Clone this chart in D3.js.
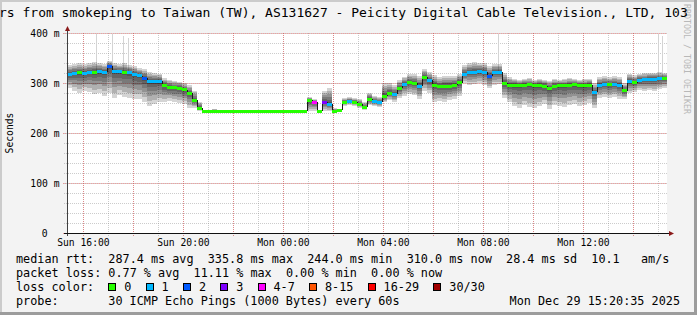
<!DOCTYPE html>
<html>
<head>
<meta charset="utf-8">
<script src="https://cdn.jsdelivr.net/npm/d3@7/dist/d3.min.js"></script>
<style>
    body { margin: 0; background: #f3f3f3; }
    svg { display: block; }
    text { font-family: "DejaVu Sans Mono", monospace; white-space: pre; }
</style>
</head>
<body>
<div class="C"></div>
<script>
// median rtt per 12 minute step, ms
var median = [318,320,321,320,322,322,323,322,334,324,
    323,322,321,318,315,310,304,303,304,295,
    292,291,290,287,280,266,250,244,244,244,
    244,244,244,244,244,244,244,244,244,244,
    244,244,244,244,244,244,244,244,266,262,
    244,262,258,244,246,262,264,262,258,252,
    268,264,262,274,280,278,290,298,301,300,
    294,312,306,296,293,294,294,296,301,318,
    322,322,323,322,314,322,322,300,296,296,
    295,296,297,295,296,294,290,294,296,295,
    296,297,296,295,296,282,296,298,297,298,
    296,285,304,301,306,307,308,308,309,310];
// lost pings out of 30
var loss = [1,1,0,1,1,0,1,1,2,1,
    1,0,1,1,1,2,1,1,1,0,
    0,0,0,0,0,0,0,0,0,0,
    0,0,0,0,0,0,0,0,0,0,
    0,0,0,0,0,0,0,0,0,5,
    0,3,1,0,0,0,1,0,0,0,
    0,1,1,0,0,1,0,1,0,0,
    1,0,1,0,0,0,0,0,0,1,
    1,1,1,1,2,1,1,0,0,0,
    0,0,0,0,0,0,0,0,0,0,
    0,0,0,0,0,1,1,1,0,1,
    1,0,1,0,1,1,1,1,1,0];
var smokeHi = [336,338,340,338,340,342,340,338,345,340,
    338,340,336,334,330,328,322,320,318,310,
    306,304,302,300,296,285,262,244,244,248,
    244,244,244,244,244,244,244,244,244,244,
    244,244,244,244,244,244,244,244,272,268,
    244,284,290,250,248,270,272,270,268,262,
    280,274,272,300,300,296,306,312,318,318,
    314,328,322,316,312,314,314,314,318,336,
    340,342,340,340,334,338,338,320,312,308,
    306,308,310,306,308,306,304,308,306,308,
    310,308,306,308,308,300,312,314,312,314,
    312,300,318,316,318,320,320,320,322,320];
var smokeLo = [290,285,280,284,282,278,280,275,280,270,
    276,272,270,268,268,262,255,258,262,262,
    265,262,260,258,250,250,244,244,244,244,
    244,244,244,244,244,244,244,244,244,244,
    244,244,244,244,244,244,244,244,244,244,
    244,244,244,244,244,255,256,254,250,246,
    256,254,252,262,266,262,270,275,278,276,
    268,284,280,262,264,262,266,268,274,300,
    296,298,300,296,290,296,298,270,262,254,
    250,256,252,250,254,258,248,256,254,252,
    256,258,254,256,260,250,270,272,270,272,
    268,268,280,282,286,284,286,284,288,290];
// single outlier pings
var spikeTimes = ["2025-12-28T16:30:00Z","2025-12-28T17:08:00Z","2025-12-28T17:36:00Z","2025-12-28T17:46:00Z",
    "2025-12-29T08:35:00Z","2025-12-29T14:58:00Z","2025-12-29T15:08:00Z"];
var spikeMax = [398,400,395,390,400,400,395];

var lossLabels = ["0","1","2","3","4-7","8-15","16-29","30/30"];
var lossColors = ["#26ff00","#00b8ff","#0059ff","#7e00ff","#ff00ff","#ff5500","#ff0000","#a10000"];
var yMinor = d3.range(0, 401, 20);
var yMajor = [0,100,200,300,400];
var yLabels = ["0","100 m","200 m","300 m","400 m"];
var rttStats = ["287.4 ms avg","335.8 ms max","244.0 ms min","310.0 ms now","28.4 ms sd","10.1   am/s"];
var lossStats = ["0.77 % avg","11.11 % max","0.00 % min","0.00 % now"];

var W = 697, H = 315;
var CH = 7.1; // legend character advance
var start = new Date(Date.UTC(2025, 11, 28, 15, 20, 35));
var end = new Date(start.getTime() + 24 * 3600e3);
var step = 12 * 60e3;
var times = median.map(function (d, i) { return new Date(start.getTime() + i * step); });

var x = d3.scaleUtc().domain([start, end]).range([67, 667]);
var y = d3.scaleLinear().domain([0, 400]).range([233, 33]);
var lossColor = d3.scaleThreshold().domain([1,2,3,4,8,16,30]).range(lossColors);

var svg = d3.select('.C').append('svg').attr('width', W).attr('height', H);

// frame
svg.append('rect').attr('width', W).attr('height', H).attr('fill', '#f3f3f3');
svg.append('rect').attr('x', 0).attr('y', 0).attr('width', W).attr('height', 2).attr('fill', '#cbcbcb');
svg.append('rect').attr('x', 0).attr('y', 0).attr('width', 2).attr('height', H).attr('fill', '#cbcbcb');
svg.append('rect').attr('x', 0).attr('y', H - 3).attr('width', W).attr('height', 3).attr('fill', '#9c9c9c');

// plot canvas
svg.append('rect').attr('x', 67).attr('y', 33).attr('width', 600).attr('height', 200).attr('fill', '#fff');

var grid = svg.append('g').attr('shape-rendering', 'crispEdges');
var hourTicks = x.ticks(d3.utcHour.every(1));
var twoHour = x.ticks(d3.utcHour.every(2));
grid.selectAll('.vmin').data(hourTicks).enter().append('line')
    .attr('x1', function (d) { return Math.round(x(d)) + 0.5; })
    .attr('x2', function (d) { return Math.round(x(d)) + 0.5; })
    .attr('y1', 33).attr('y2', 236)
    .attr('stroke', 'rgba(143,143,143,0.45)').attr('stroke-dasharray', '1,1');
grid.selectAll('.hmin').data(yMinor).enter().append('line')
    .attr('x1', 64).attr('x2', 667)
    .attr('y1', function (d) { return Math.round(y(d)) + 0.5; })
    .attr('y2', function (d) { return Math.round(y(d)) + 0.5; })
    .attr('stroke', 'rgba(143,143,143,0.45)').attr('stroke-dasharray', '1,1');
grid.selectAll('.vmaj').data(twoHour).enter().append('line')
    .attr('x1', function (d) { return Math.round(x(d)) + 0.5; })
    .attr('x2', function (d) { return Math.round(x(d)) + 0.5; })
    .attr('y1', 33).attr('y2', 237)
    .attr('stroke', 'rgba(233,80,80,0.55)').attr('stroke-dasharray', '1,1');
grid.selectAll('.hmaj').data(yMajor).enter().append('line')
    .attr('x1', 63).attr('x2', 667)
    .attr('y1', function (d) { return Math.round(y(d)) + 0.5; })
    .attr('y2', function (d) { return Math.round(y(d)) + 0.5; })
    .attr('stroke', 'rgba(233,80,80,0.55)').attr('stroke-dasharray', '1,1');

var plot = svg.append('g').attr('shape-rendering', 'crispEdges');

// outliers
plot.selectAll('.spike').data(spikeTimes).enter().append('line')
    .attr('x1', function (d) { return Math.round(x(new Date(d))) + 0.5; })
    .attr('x2', function (d) { return Math.round(x(new Date(d))) + 0.5; })
    .attr('y1', function (d, i) { return y(spikeMax[i]); })
    .attr('y2', function (d, i) { return y(median[Math.floor((new Date(d) - start) / step)]); })
    .attr('stroke', '#d4d4d4');

// smoke, darker towards the median
var layers = [1, 0.8, 0.6, 0.42, 0.26, 0.12];
layers.forEach(function (f) {
    plot.selectAll(null).data(times).enter().append('rect')
        .attr('x', function (d) { return x(d); })
        .attr('width', function (d) { return x(new Date(d.getTime() + step)) - x(d); })
        .attr('y', function (d, i) { return y(median[i] + (smokeHi[i] - median[i]) * f); })
        .attr('height', function (d, i) {
            return Math.max(0, y(median[i] - (median[i] - smokeLo[i]) * f) - y(median[i] + (smokeHi[i] - median[i]) * f));
        })
        .attr('fill', '#000').attr('fill-opacity', 0.17);
});

// step joins
plot.selectAll('.join').data(times.slice(1)).enter().append('line')
    .attr('x1', function (d) { return Math.round(x(d)) + 0.5; })
    .attr('x2', function (d) { return Math.round(x(d)) + 0.5; })
    .attr('y1', function (d, i) { return y(median[i]); })
    .attr('y2', function (d, i) { return y(median[i + 1]); })
    .attr('stroke', '#1a1a1a');

// median coloured by loss
plot.selectAll('.med').data(times).enter().append('rect')
    .attr('x', function (d) { return x(d); })
    .attr('width', function (d) { return x(new Date(d.getTime() + step)) - x(d); })
    .attr('y', function (d, i) { return y(median[i]) - 1.5; })
    .attr('height', 3)
    .attr('fill', function (d, i) { return lossColor(loss[i]); });

// axes
var axes = svg.append('g').attr('shape-rendering', 'crispEdges');
axes.append('line').attr('x1', 67.5).attr('x2', 67.5).attr('y1', 236).attr('y2', 30).attr('stroke', '#404040');
axes.append('line').attr('x1', 64).attr('x2', 670).attr('y1', 233.5).attr('y2', 233.5).attr('stroke', '#111');
svg.append('path').attr('d', 'M65,31 L67.5,26 L70,31 Z').attr('fill', '#8b1a1a');
svg.append('path').attr('d', 'M669,231 L674,233.5 L669,236 Z').attr('fill', '#8b1a1a');

svg.selectAll('.ylab').data(yMajor).enter().append('text')
    .attr('x', function (d) { return d === 0 ? 47.5 : 59.5; })
    .attr('y', function (d) { return y(d) + 3.5; })
    .attr('text-anchor', 'end').style('font-size', '9.7px').style('fill', '#000')
    .text(function (d, i) { return yLabels[i]; });

var fmt = d3.utcFormat('%a %H:%M');
svg.selectAll('.xlab').data(x.ticks(d3.utcHour.every(4))).enter().append('text')
    .attr('x', function (d) { return x(d); })
    .attr('y', 246)
    .attr('text-anchor', 'middle').style('font-size', '9.7px').style('fill', '#000')
    .text(function (d) { return fmt(d); });

svg.append('text').attr('transform', 'translate(13,133) rotate(-90)')
    .attr('text-anchor', 'middle').style('font-size', '9.7px').style('fill', '#000').text('Seconds');

svg.append('text').attr('transform', 'translate(684,4) rotate(90)')
    .style('font-size', '8.3px').style('fill', '#b8b8b8').text('RRDTOOL / TOBI OETIKER');

svg.append('text').attr('x', -1).attr('y', 17).style('font-size', '13px').style('fill', '#000')
    .text('rs from smokeping to Taiwan (TW), AS131627 - Peicity Digital Cable Television., LTD, 103');
svg.append('rect').attr('x', W - 3).attr('y', 0).attr('width', 3).attr('height', H).attr('fill', '#9c9c9c');

// legend
var leg = svg.append('g').style('font-size', '11.8px').style('fill', '#000');
leg.append('text').attr('x', 16).attr('y', 263).text('median rtt:  ' + rttStats.join('  '));
leg.append('text').attr('x', 16).attr('y', 277).text('packet loss: ' + lossStats.join('  '));
leg.append('text').attr('x', 16).attr('y', 291).text('loss color:');
var boxX = [];
var bx = 16 + 13 * CH;
lossLabels.forEach(function (d) { boxX.push(bx); bx += 16 + d.length * CH + 2 * CH; });
leg.selectAll('.lb').data(lossLabels).enter().append('rect')
    .attr('x', function (d, i) { return Math.round(boxX[i]) + 0.5; })
    .attr('y', 283.5).attr('width', 7).attr('height', 7)
    .attr('fill', function (d, i) { return lossColors[i]; })
    .attr('stroke', '#000').attr('shape-rendering', 'crispEdges');
leg.selectAll('.lt').data(lossLabels).enter().append('text')
    .attr('x', function (d, i) { return boxX[i] + 16; })
    .attr('y', 291).text(function (d) { return d; });
leg.append('text').attr('x', 16).attr('y', 305).text('probe:');
leg.append('text').attr('x', 16 + 13 * CH).attr('y', 305).text('30 ICMP Echo Pings (1000 Bytes) every 60s');
leg.append('text').attr('x', 680).attr('y', 305).attr('text-anchor', 'end').text('Mon Dec 29 15:20:35 2025');
</script>
</body>
</html>
